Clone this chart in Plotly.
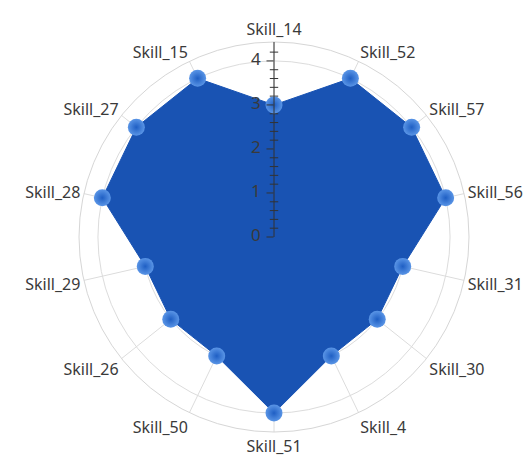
import plotly.graph_objects as go

# Skill categories, clockwise from the top
skills = ["Skill_14", "Skill_52", "Skill_57", "Skill_56", "Skill_31", "Skill_30",
          "Skill_4", "Skill_51", "Skill_50", "Skill_26", "Skill_29", "Skill_28",
          "Skill_27", "Skill_15"]
levels = [3, 4, 4, 4, 3, 3, 3, 4, 3, 3, 3, 4, 4, 4]

radial_ticks = [0, 1, 2, 3, 4]
minor_steps = [i / 5 for i in range(1, 22) if i % 5 != 0]

FONT = "Noto Sans, Open Sans, sans-serif"
TEXT = "#3a3a3a"

fig = go.Figure()

# filled skill polygon
fig.add_trace(go.Scatterpolar(
    r=levels + levels[:1],
    theta=skills + skills[:1],
    mode="lines",
    fill="toself",
    fillcolor="#1953b3",
    line=dict(color="#1953b3", width=1),
    hoverinfo="skip",
    showlegend=False,
))

# minor tick marks on the radial axis
fig.add_trace(go.Scatterpolar(
    r=minor_steps,
    theta=[skills[0]] * len(minor_steps),
    mode="markers",
    marker=dict(symbol="line-ew", size=6, line=dict(color="#333333", width=1)),
    hoverinfo="skip",
    showlegend=False,
))

# radial value labels, placed left of the axis line
fig.add_trace(go.Scatterpolar(
    r=radial_ticks,
    theta=[skills[0]] * len(radial_ticks),
    mode="text",
    text=[f"{v}\u00a0\u00a0\u00a0" for v in radial_ticks],
    textposition="middle left",
    textfont=dict(family=FONT, size=17, color=TEXT),
    hoverinfo="skip",
    showlegend=False,
))

# point markers
fig.add_trace(go.Scatterpolar(
    r=levels,
    theta=skills,
    mode="markers",
    marker=dict(size=17, color="#5a95e6",
                gradient=dict(type="radial", color="#1f5fc4"),
                line=dict(width=0)),
    showlegend=False,
))

fig.update_layout(
    width=532, height=458,
    margin=dict(l=0, r=0, t=0, b=0),
    paper_bgcolor="white",
    font=dict(family=FONT, size=16, color=TEXT),
    polar=dict(
        domain=dict(x=[79 / 532, 469 / 532], y=[26 / 458, 416 / 458]),
        bgcolor="white",
        angularaxis=dict(
            rotation=90, direction="clockwise",
            showline=True, linecolor="#d6d6d6", linewidth=1,
            gridcolor="#dcdcdc", gridwidth=1,
            ticks="",
            tickfont=dict(family=FONT, size=16, color=TEXT),
        ),
        radialaxis=dict(
            range=[0, 4.43], angle=90,
            tickvals=radial_ticks, showticklabels=False,
            showline=True, linecolor="#333333", linewidth=1,
            ticks="inside", ticklen=7, tickcolor="#333333",
            gridcolor="#dcdcdc", gridwidth=1,
            layer="above traces",
        ),
    ),
)

fig.write_html("out.html")
